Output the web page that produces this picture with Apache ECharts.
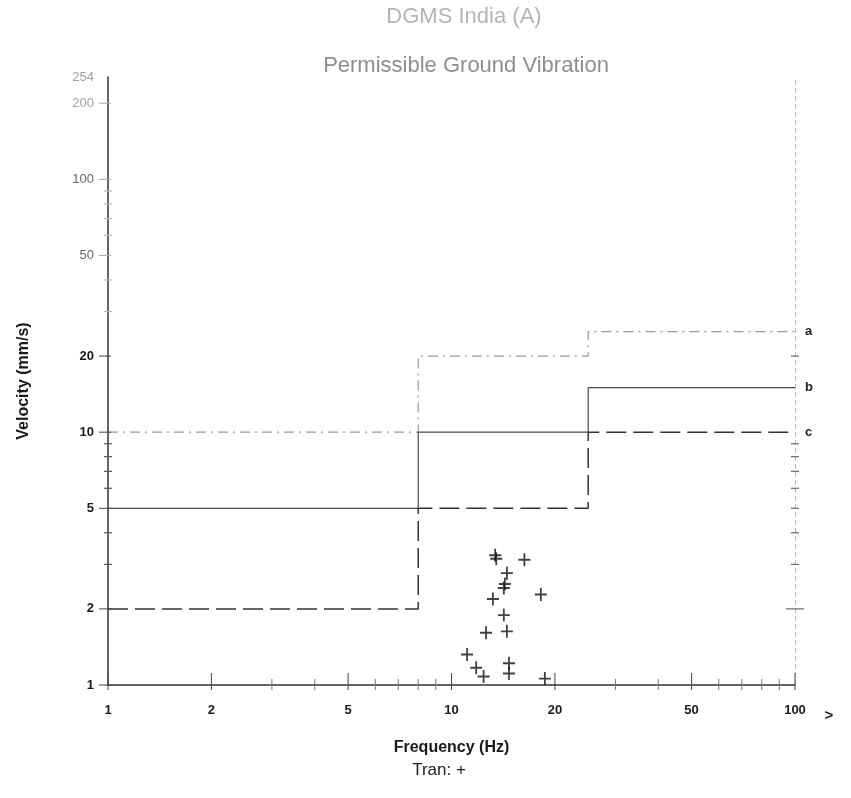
<!DOCTYPE html>
<html><head><meta charset="utf-8">
<script src="https://cdn.jsdelivr.net/npm/echarts@6/dist/echarts.min.js"></script>
<style>html,body{margin:0;padding:0;background:#fff}#c{width:851px;height:798px}</style>
</head><body><div id="c"></div>
<script>
// ---- data ----
const freqBreaks = [1, 8, 25, 100];
const limitA = [10, 20, 25];
const limitB = [5, 10, 15];
const limitC = [2, 5, 10];
const lineNames = ['a', 'b', 'c'];
const tranFreq = [13.4, 13.5, 16.3, 14.5, 14.3, 14.2, 13.2, 18.2, 14.2, 12.6, 14.5, 11.1, 11.8, 12.4, 14.7, 14.7, 18.7];
const tranVel  = [3.26, 3.16, 3.13, 2.77, 2.51, 2.42, 2.19, 2.28, 1.89, 1.61, 1.63, 1.32, 1.17, 1.08, 1.22, 1.11, 1.06];
const xMajorTicks = [1, 2, 5, 10, 20, 50, 100];
const xMinorTicks = [3, 4, 6, 7, 8, 9, 30, 40, 60, 70, 80, 90];
const yMajorTicks = [1, 2, 5, 10, 20, 50, 100, 200, 254];
const yMinorTicks = [3, 4, 6, 7, 8, 9, 30, 40, 60, 70, 80, 90];
const rightTicks = [2, 3, 4, 5, 6, 7, 8, 9, 20];
const xMin = 1, xMax = 100, yMin = 1, yMax = 254;

function stepPoints(limits) {
  const pts = [];
  for (let i = 0; i < limits.length; i++) {
    pts.push([freqBreaks[i], limits[i]], [freqBreaks[i + 1], limits[i]]);
  }
  return pts;
}
const FONT = '"Liberation Sans", Arial, sans-serif';
const CROSS = 'path://M0,6.8H16V9.2H0Z M6.8,0H9.2V16H6.8Z';

function lineSeries(name, limits, style) {
  return {
    type: 'line', name: name, data: stepPoints(limits), symbol: 'none',
    lineStyle: style, silent: true, z: 3,
    endLabel: { show: true, formatter: name, distance: 10, fontFamily: FONT,
      fontWeight: 'bold', fontSize: 13, color: '#222' }
  };
}

const chart = echarts.init(document.getElementById('c'), null, { renderer: 'canvas' });
chart.setOption({
  animation: false,
  backgroundColor: '#fff',
  graphic: [
    { type: 'text', x: 464, y: 17, style: { text: 'DGMS India (A)', align: 'center', verticalAlign: 'middle', font: 'normal 22px ' + FONT, fill: '#b4b4b4' } },
    { type: 'text', x: 466, y: 66, style: { text: 'Permissible Ground Vibration', align: 'center', verticalAlign: 'middle', font: 'normal 22px ' + FONT, fill: '#8e8e8e' } },
    { type: 'text', x: 439, y: 770, style: { text: 'Tran: +', align: 'center', verticalAlign: 'middle', font: 'normal 17px ' + FONT, fill: '#222' } },
    { type: 'text', x: 829, y: 716, style: { text: '>', align: 'center', verticalAlign: 'middle', font: 'bold 15px ' + FONT, fill: '#222' } }
  ],
  grid: { left: 108, right: 56, top: 77, bottom: 113, containLabel: false },
  xAxis: {
    type: 'log', logBase: 10, min: xMin, max: xMax,
    name: 'Frequency (Hz)', nameLocation: 'middle', nameGap: 55,
    nameTextStyle: { fontFamily: FONT, fontWeight: 'bold', fontSize: 16, color: '#1a1a1a' },
    axisLine: { show: true, lineStyle: { color: '#333', width: 1.5 } },
    axisTick: { show: false }, axisLabel: { show: false },
    splitLine: { show: false }, minorSplitLine: { show: false }
  },
  yAxis: {
    type: 'log', logBase: 10, min: yMin, max: yMax,
    name: 'Velocity (mm/s)', nameLocation: 'middle', nameGap: 76,
    nameTextStyle: { fontFamily: FONT, fontWeight: 'bold', fontSize: 16, color: '#1a1a1a' },
    axisLine: { show: true, lineStyle: { color: '#333', width: 1.5 } },
    axisTick: { show: false }, axisLabel: { show: false },
    splitLine: { show: false }
  },
  series: [
    lineSeries(lineNames[0], limitA, { color: '#9a9a9a', width: 1.2, type: [10, 5, 2, 5] }),
    lineSeries(lineNames[1], limitB, { color: '#4a4a4a', width: 1.2, type: 'solid' }),
    lineSeries(lineNames[2], limitC, { color: '#333', width: 1.5, type: [20, 7] }),
    {
      type: 'scatter', name: 'Tran', symbol: CROSS, symbolSize: [12, 13],
      itemStyle: { color: '#111' }, z: 6,
      data: tranFreq.map((f, i) => [f, tranVel[i]])
    },
    { // right border at 100 Hz
      type: 'line', data: [], silent: true,
      markLine: { silent: true, symbol: 'none', label: { show: false },
        lineStyle: { color: '#b5b5b5', type: [5, 3], width: 1 },
        data: [{ xAxis: xMax }] }
    },
    { // x major ticks + labels
      type: 'custom', silent: true, z: 5,
      data: xMajorTicks.map(v => [v, yMin]),
      renderItem(params, api) {
        const p = api.coord([api.value(0), api.value(1)]);
        return { type: 'group', children: [
          { type: 'line', shape: { x1: p[0], y1: p[1] - 12, x2: p[0], y2: p[1] + 5 }, style: { stroke: '#444', lineWidth: 1 } },
          { type: 'text', x: p[0], y: p[1] + 25, style: { text: String(api.value(0)), align: 'center', verticalAlign: 'middle', font: 'bold 13px ' + FONT, fill: '#1a1a1a' } }
        ]};
      }
    },
    { // x minor ticks
      type: 'custom', silent: true, z: 5,
      data: xMinorTicks.map(v => [v, yMin]),
      renderItem(params, api) {
        const p = api.coord([api.value(0), api.value(1)]);
        return { type: 'line', shape: { x1: p[0], y1: p[1] - 6, x2: p[0], y2: p[1] + 5 }, style: { stroke: '#777', lineWidth: 1 } };
      }
    },
    { // y major ticks + labels
      type: 'custom', silent: true, z: 5,
      data: yMajorTicks.map(v => [xMin, v]),
      renderItem(params, api) {
        const v = api.value(1);
        const p = api.coord([api.value(0), v]);
        const col = v >= 200 ? '#a0a0a0' : (v >= 50 ? '#666' : '#1a1a1a');
        const wt = v >= 50 ? 'normal' : 'bold';
        const children = [
          { type: 'text', x: p[0] - 14, y: p[1], style: { text: String(v), align: 'right', verticalAlign: 'middle', font: wt + ' 13px ' + FONT, fill: col } }
        ];
        if (v < 254) children.push({ type: 'line', shape: { x1: p[0] - 9, y1: p[1], x2: p[0] + 3, y2: p[1] }, style: { stroke: v >= 50 ? '#aaa' : '#444', lineWidth: 1 } });
        return { type: 'group', children };
      }
    },
    { // y minor ticks
      type: 'custom', silent: true, z: 5,
      data: yMinorTicks.map(v => [xMin, v]),
      renderItem(params, api) {
        const p = api.coord([api.value(0), api.value(1)]);
        return { type: 'line', shape: { x1: p[0] - 4, y1: p[1], x2: p[0] + 4, y2: p[1] }, style: { stroke: api.value(1) > 10 ? '#bbb' : '#555', lineWidth: 1.2 } };
      }
    },
    { // right border ticks
      type: 'custom', silent: true, z: 5,
      data: rightTicks.map(v => [xMax, v]),
      renderItem(params, api) {
        const v = api.value(1);
        const p = api.coord([api.value(0), v]);
        const w = v === 2 ? 9 : 4;
        return { type: 'line', shape: { x1: p[0] - w, y1: p[1], x2: p[0] + w, y2: p[1] }, style: { stroke: '#666', lineWidth: 1.2 } };
      }
    }
  ]
});
</script>
</body></html>
